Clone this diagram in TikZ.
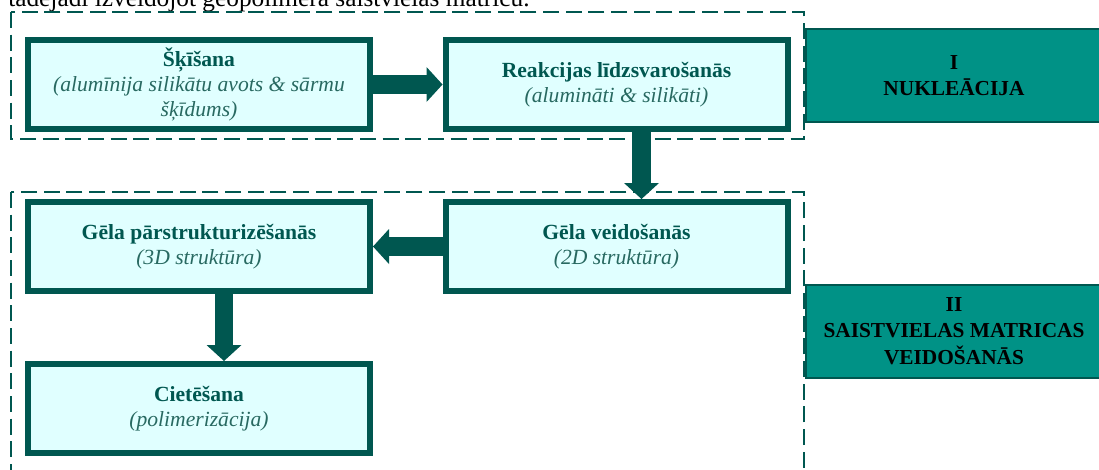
\documentclass[tikz,border=0pt]{standalone}
\usepackage{fontspec}
\setmainfont{Liberation Serif}
\usetikzlibrary{arrows.meta, positioning}

\definecolor{darkteal}{RGB}{0,87,80}
\definecolor{noteteal}{RGB}{40,105,97}
\definecolor{stagefill}{RGB}{224,255,255}
\definecolor{phasefill}{RGB}{0,146,134}

\newcommand{\stagenote}[1]{\textcolor{noteteal}{\itshape #1}}

\begin{document}
\begin{tikzpicture}[x=0.75pt, y=-0.75pt,
    stage/.style={draw=darkteal, line width=4.5pt, fill=stagefill, minimum width=256.5pt,
        minimum height=66.75pt, inner sep=0pt, align=center, text=darkteal,
        font=\fontsize{16.2}{19}\selectfont},
    phase/.style={draw=darkteal, line width=1.5pt, fill=phasefill, minimum width=222pt,
        minimum height=69.75pt, inner sep=0pt, align=center,
        font=\fontsize{16}{20}\selectfont\bfseries},
    group/.style={draw=darkteal, line width=1.7pt, dash pattern=on 12pt off 5pt},
    flow/.style={draw=darkteal, line width=14pt,
        -{Triangle[length=12pt, width=26.25pt, line width=0pt]}}
]
    \useasboundingbox (0,0) rectangle (1099,469);
    \clip (0,0) rectangle (1099,469);

    % Text line cut off at the top
    \node[anchor=base west, inner sep=0pt, font=\fontsize{19}{21}\selectfont] (intro) at (8,6)
        {tādējādi izveidojot ģeopolimēra saistvielas matricu.};

    % Dashed frames of the two phases
    \draw[group] (11,12) rectangle (804,139);
    \draw[group] (11,192) rectangle (804,500);

    % Stages
    \node[stage] (skis) at (199,84.5)
        {\textbf{Šķīšana}\\ \stagenote{(alumīnija silikātu avots \& sārmu}\\ \stagenote{šķīdums)}};
    \node[stage] (reak) at (616.5,84.5)
        {\textbf{Reakcijas līdzsvarošanās}\\ \stagenote{(alumināti \& silikāti)}};
    \node[stage] (gelv) at (616.5,246.5)
        {\textbf{Gēla veidošanās}\\ \stagenote{(2D struktūra)}};
    \node[stage] (gelp) at (199,246.5)
        {\textbf{Gēla pārstrukturizēšanās}\\ \stagenote{(3D struktūra)}};
    \node[stage] (ciet) at (199,408.5)
        {\textbf{Cietēšana}\\ \stagenote{(polimerizācija)}};

    % Phases
    \node[phase] (nukl) at (954,75.5) {I\\ NUKLEĀCIJA};
    \node[phase] (matr) at (954,331) {II\\ SAISTVIELAS MATRICAS\\ VEIDOŠANĀS};

    % Flow between stages
    \draw[flow] (skis.east) -- (reak.west);
    \draw[flow] ([xshift=18.75pt]reak.south) -- ([xshift=18.75pt]gelv.north);
    \draw[flow] (gelv.west) -- (gelp.east);
    \draw[flow] ([xshift=18.75pt]gelp.south) -- ([xshift=18.75pt]ciet.north);
\end{tikzpicture}
\end{document}
